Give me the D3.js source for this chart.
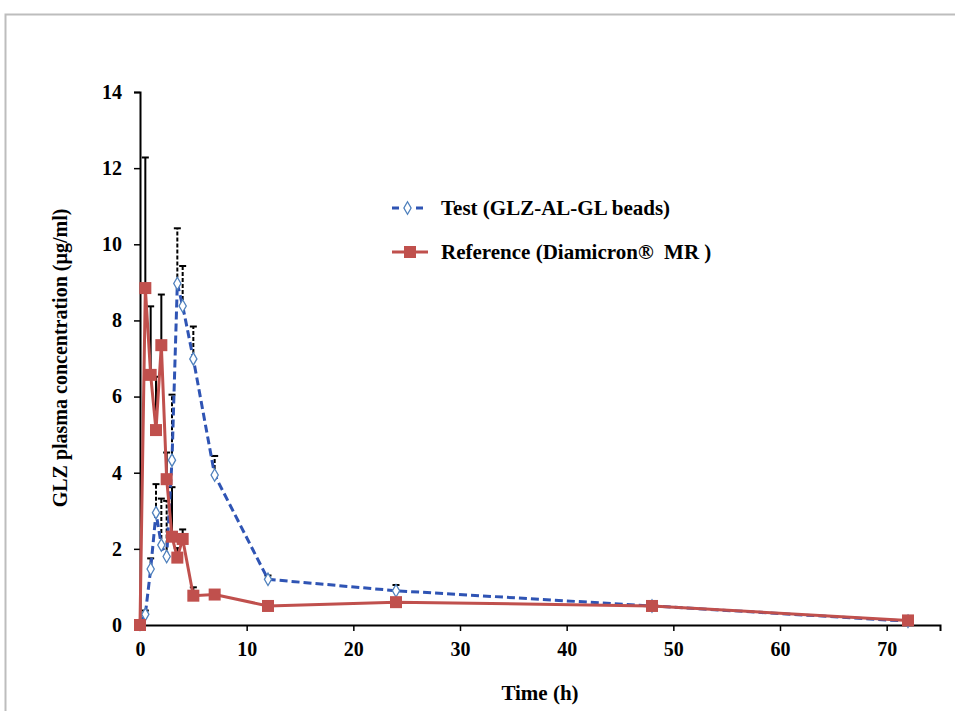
<!DOCTYPE html>
<html>
<head>
<meta charset="utf-8">
<script src="https://cdn.jsdelivr.net/npm/d3@7"></script>
<style>
  body { margin: 0; background: #fff; }
  text { font-family: "Liberation Serif", "Times New Roman", serif; font-weight: bold; }
</style>
</head>
<body>
<div id="chart"></div>
<script>
// sampling times (h)
const times = [0, 0.5, 1, 1.5, 2, 2.5, 3, 3.5, 4, 5, 7, 12, 24, 48, 72]
// Test (GLZ-AL-GL beads): mean and upper SD
const testMean = [0.02, 0.28, 1.47, 2.95, 2.1, 1.8, 4.33, 8.97, 8.38, 6.99, 3.94, 1.2, 0.9, 0.5, 0.1]
const testErr = [0, 0.1, 0.28, 0.75, 1.22, 1.46, 1.72, 1.45, 1.05, 0.85, 0.5, 0.1, 0.15, 0.06, 0.04]
// Reference (Diamicron MR): mean and upper SD
const refMean = [0, 8.85, 6.57, 5.12, 7.35, 3.83, 2.32, 1.77, 2.26, 0.77, 0.8, 0.5, 0.6, 0.5, 0.12]
const refErr = [0, 3.43, 1.8, 1.4, 1.33, 0.7, 1.3, 0.25, 0.25, 0.22, 0.05, 0.04, 0.05, 0.04, 0.03]

const xTicks = [0, 10, 20, 30, 40, 50, 60, 70]
const yTicks = [0, 2, 4, 6, 8, 10, 12, 14]
const legendLabels = ["Test (GLZ-AL-GL beads)", "Reference (Diamicron\u00AE  MR )"]

const blue = "#2f54b4"
const red = "#c0504d"

const svg = d3.select("#chart")
  .append("svg")
    .attr("width", 955)
    .attr("height", 711)

// outer frame (top and left only visible)
svg.append("path")
  .attr("d", "M5.5,711 V14.5 H955")
  .attr("fill", "none")
  .attr("stroke", "#bdbdbd")
  .attr("stroke-width", 2)

const x = d3.scaleLinear().domain([0, 75]).range([140, 940])
const y = d3.scaleLinear().domain([0, 14]).range([625, 92])

const xAxis = svg.append("g")
  .attr("transform", "translate(0,625)")
  .call(d3.axisBottom(x).tickValues(xTicks).tickSizeOuter(0).tickSize(6).tickPadding(8))
const yAxis = svg.append("g")
  .attr("transform", "translate(140,0)")
  .call(d3.axisLeft(y).tickValues(yTicks).tickSizeOuter(0).tickSize(6).tickPadding(12))

;[xAxis, yAxis].forEach(a => {
  a.select(".domain").attr("stroke", "#000").attr("stroke-width", 2)
  a.selectAll(".tick line").attr("stroke", "#000").attr("stroke-width", 1.5)
  a.selectAll(".tick text")
    .attr("fill", "#000")
    .style("font-size", "20px")
    .style("font-family", "'Liberation Serif', serif")
    .style("font-weight", "bold")
})
xAxis.selectAll(".tick text").attr("dy", "0.85em")

// axis titles
svg.append("text")
  .attr("x", 540).attr("y", 700)
  .attr("text-anchor", "middle")
  .style("font-size", "21px")
  .text("Time (h)")
svg.append("text")
  .attr("transform", "translate(67,358) rotate(-90)")
  .attr("text-anchor", "middle")
  .style("font-size", "20px")
  .text("GLZ plasma concentration (\u00B5g/ml)")

const testData = times.map((t, i) => ({t: t, v: testMean[i], e: testErr[i]}))
const refData = times.map((t, i) => ({t: t, v: refMean[i], e: refErr[i]}))

// error bars (upper only)
function errorBars(data, dashed, cls) {
  const g = svg.append("g").attr("class", cls)
  const bars = data.filter(d => d.e > 0)
  g.selectAll("line.stem")
    .data(bars).enter()
    .append("line")
      .attr("class", "stem")
      .attr("x1", d => x(d.t)).attr("x2", d => x(d.t))
      .attr("y1", d => y(d.v)).attr("y2", d => y(d.v + d.e))
      .attr("stroke", "#000")
      .attr("stroke-width", 2)
      .attr("stroke-dasharray", dashed ? "4,2" : null)
  g.selectAll("line.cap")
    .data(bars).enter()
    .append("line")
      .attr("class", "cap")
      .attr("x1", d => x(d.t) - 3.5).attr("x2", d => x(d.t) + 3.5)
      .attr("y1", d => y(d.v + d.e)).attr("y2", d => y(d.v + d.e))
      .attr("stroke", "#000")
      .attr("stroke-width", 2)
}
errorBars(testData, true, "err-test")
errorBars(refData, false, "err-ref")

const line = d3.line().x(d => x(d.t)).y(d => y(d.v))

// test series
svg.append("path")
  .datum(testData)
  .attr("fill", "none")
  .attr("stroke", blue)
  .attr("stroke-width", 3)
  .attr("stroke-dasharray", "8,4")
  .attr("d", line)

const diamond = d3.symbol().type(d3.symbolDiamond).size(45)
svg.selectAll("path.test-pt")
  .data(testData).enter()
  .append("path")
    .attr("class", "test-pt")
    .attr("transform", d => `translate(${x(d.t)},${y(d.v)})`)
    .attr("d", diamond)
    .attr("fill", "#fff")
    .attr("stroke", "#4f81bd")
    .attr("stroke-width", 1.3)

// reference series
svg.append("path")
  .datum(refData)
  .attr("fill", "none")
  .attr("stroke", red)
  .attr("stroke-width", 3)
  .attr("d", line)

svg.selectAll("rect.ref-pt")
  .data(refData).enter()
  .append("rect")
    .attr("class", "ref-pt")
    .attr("x", d => x(d.t) - 6)
    .attr("y", d => y(d.v) - 6)
    .attr("width", 12)
    .attr("height", 12)
    .attr("fill", red)

// legend
const legend = svg.append("g")
legend.append("line")
  .attr("x1", 392).attr("x2", 423).attr("y1", 208).attr("y2", 208)
  .attr("stroke", blue).attr("stroke-width", 3).attr("stroke-dasharray", "7,5")
legend.append("path")
  .attr("transform", "translate(407.5,208)")
  .attr("d", diamond)
  .attr("fill", "#fff").attr("stroke", "#4f81bd").attr("stroke-width", 1.3)
legend.append("line")
  .attr("x1", 392).attr("x2", 428).attr("y1", 252).attr("y2", 252)
  .attr("stroke", red).attr("stroke-width", 3)
legend.append("rect")
  .attr("x", 404).attr("y", 246).attr("width", 12).attr("height", 12)
  .attr("fill", red)
legend.selectAll("text.lbl")
  .data(legendLabels).enter()
  .append("text")
    .attr("class", "lbl")
    .attr("x", 441)
    .attr("y", (d, i) => 208 + i * 44)
    .attr("dy", "0.35em")
    .attr("xml:space", "preserve")
    .style("white-space", "pre")
    .style("font-size", "21px")
    .text(d => d)
</script>
</body>
</html>
